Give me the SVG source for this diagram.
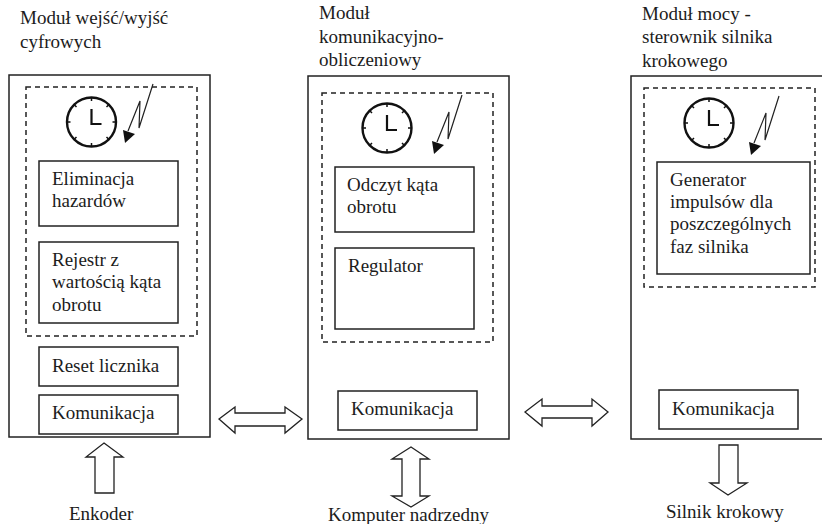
<svg xmlns="http://www.w3.org/2000/svg" width="822" height="524" viewBox="0 0 822 524">
<defs>
<style>
text{font-family:"Liberation Serif","Times New Roman",serif;font-size:19px;fill:#1c1c1c}
.box{fill:#fff;stroke:#222;stroke-width:1.5}
.dash{fill:none;stroke:#222;stroke-width:1.5;stroke-dasharray:5 4}
.arr{fill:#fff;stroke:#222;stroke-width:1.3}
.bolt{fill:none;stroke:#222;stroke-width:1.2}
.head{fill:#111}
.rim{fill:none;stroke:#111;stroke-width:2.4}
.hand{fill:none;stroke:#111;stroke-width:2.2}
.tick{stroke:#111;stroke-width:1.5}
</style>
<g id="clock">
<circle class="rim" r="24.500"/>
<path class="hand" d="M0-13V2H10"/>
<path class="tick" d="M0-25V-21M0 25V21M-25 0H-21M25 0H21M-15-15L-17.500-17.500M15-15L17.500-17.500M-15 15L-17.500 17.500M15 15L17.500 17.500"/>
</g>
<g id="bolt">
<path class="bolt" d="M0 0L-14 44L-13 17L-25 47"/>
<path class="head" d="M-28 59L-30 46L-18 50Z"/>
</g>
</defs>
<rect width="822" height="524" fill="#fff"/>
<g id="module-left">
<rect class="box" x="9" y="75" width="201" height="362"/>
<rect class="dash" x="26" y="87" width="171" height="249"/>
<use href="#clock" x="91.500" y="122"/>
<use href="#bolt" x="153" y="84"/>
<text x="20" y="24">Moduł wejść/wyjść</text>
<text x="20" y="48">cyfrowych</text>
</g>
<g id="left-eliminacja"><rect class="box" x="39" y="161" width="139" height="65"/><text x="52" y="185">Eliminacja</text><text x="52" y="207">hazardów</text></g>
<g id="left-rejestr"><rect class="box" x="39" y="242" width="139" height="81"/><text x="52" y="266">Rejestr z</text><text x="52" y="288">wartością kąta</text><text x="52" y="311">obrotu</text></g>
<g id="left-reset"><rect class="box" x="39" y="347" width="139" height="39"/><text x="52" y="372">Reset licznika</text></g>
<g id="left-kom"><rect class="box" x="39" y="395" width="139" height="39"/><text x="52" y="419">Komunikacja</text></g>
<g id="module-mid">
<rect class="box" x="308" y="76" width="201" height="363"/>
<rect class="dash" x="322" y="93" width="171" height="249"/>
<use href="#clock" x="387" y="128"/>
<use href="#bolt" x="462" y="95"/>
<text x="319" y="19">Moduł</text>
<text x="319" y="43">komunikacyjno-</text>
<text x="319" y="66">obliczeniowy</text>
</g>
<g id="mid-odczyt"><rect class="box" x="335" y="167" width="139" height="65"/><text x="347" y="191">Odczyt kąta</text><text x="347" y="213">obrotu</text></g>
<g id="mid-regulator"><rect class="box" x="335" y="248" width="139" height="81"/><text x="348" y="272">Regulator</text></g>
<g id="mid-kom"><rect class="box" x="338" y="391" width="139" height="39"/><text x="351" y="415">Komunikacja</text></g>
<g id="module-right">
<rect class="box" x="631" y="76" width="192" height="363"/>
<rect class="dash" x="644" y="88" width="171" height="199"/>
<use href="#clock" x="709" y="123"/>
<use href="#bolt" x="779" y="96"/>
<text x="642" y="20">Moduł mocy -</text>
<text x="642" y="43">sterownik silnika</text>
<text x="642" y="67">krokowego</text>
</g>
<g id="right-generator"><rect class="box" x="657" y="162" width="153" height="112"/><text x="670" y="186">Generator</text><text x="670" y="208">impulsów dla</text><text x="670" y="230">poszczególnych</text><text x="670" y="253">faz silnika</text></g>
<g id="right-kom"><rect class="box" x="659" y="390" width="139" height="39"/><text x="672" y="415">Komunikacja</text></g>
<g id="connectors">
<path class="arr" d="M219 419L235 407V413H285V407L302 419L285 433V426H235V433Z"/>
<path class="arr" d="M525 412L542 399V406H592V399L608 412L592 426V418H542V426Z"/>
<path class="arr" d="M104 443L123 457H114V493H95V457H86Z"/>
<path class="arr" d="M411 447L429 459H420V496H429L411 507L392 496H402V459H392Z"/>
<path class="arr" d="M728 495L710 483H719V445H738V483H747Z"/>
</g>
<g id="labels">
<text x="69" y="520">Enkoder</text>
<text x="328" y="521">Komputer nadrzedny</text>
<text x="666" y="518">Silnik krokowy</text>
</g>
</svg>
